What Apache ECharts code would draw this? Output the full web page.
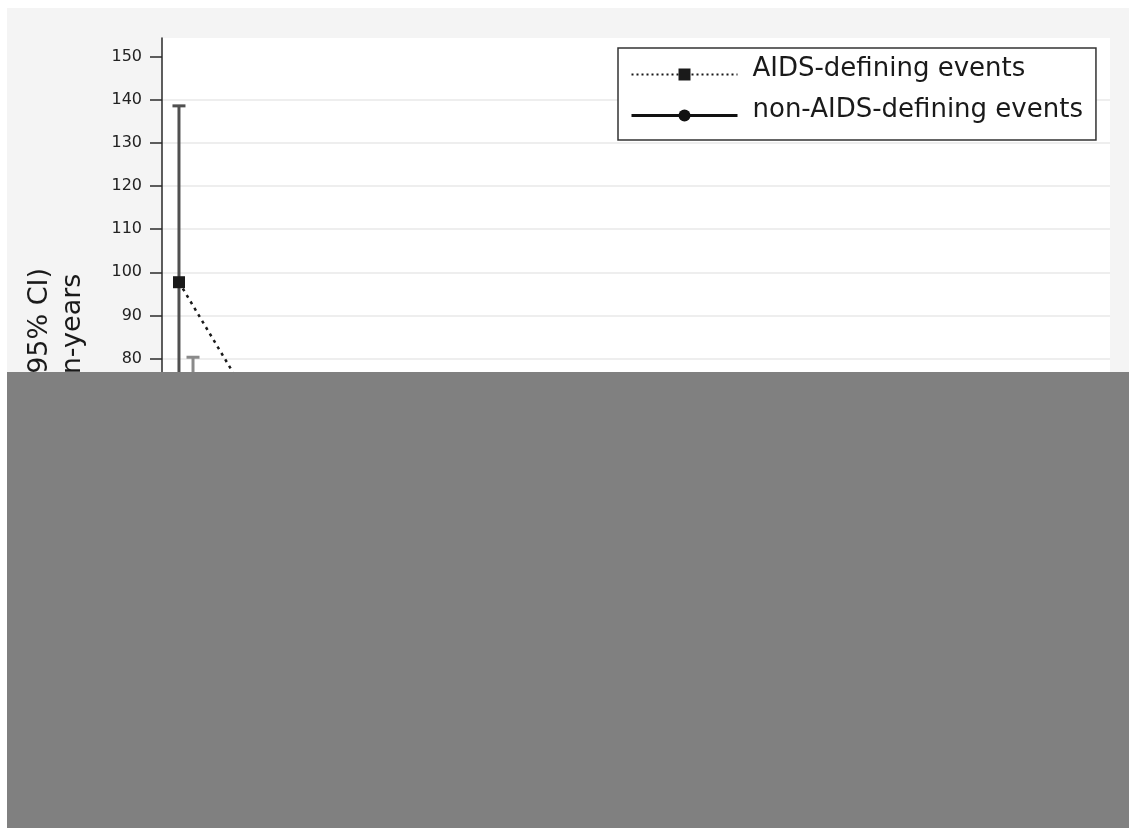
<!DOCTYPE html>
<html>
<head>
<meta charset="utf-8">
<title>Incidence of AIDS-defining and non-AIDS-defining events</title>
<script src="https://cdn.jsdelivr.net/npm/echarts@6/dist/echarts.min.js"></script>
<style>
  html, body { margin: 0; padding: 0; background: #ffffff; }
  #frame { position: absolute; left: 7px; top: 8px; width: 1122px; height: 820px; background: #f4f4f4; }
  #chart { position: absolute; left: 0; top: 0; width: 1129px; height: 828px; }
</style>
</head>
<body>
<div id="frame"></div>
<div id="chart"></div>
<script>
// CD4 strata (cells/µL) on the horizontal axis
const groups = ['<50', '50–99', '100–199', '200–349', '350–499', '≥500'];

// AIDS-defining events: rate and 95% CI per 1000 person-years
const aidsRate = [97.7, 28.0, 12.5, 6.0, 3.4, 2.1];
const aidsLow  = [69.0, 22.0, 9.5, 4.4, 2.3, 1.4];
const aidsHigh = [138.6, 35.6, 16.4, 8.2, 5.0, 3.1];

// non-AIDS-defining events: rate and 95% CI per 1000 person-years
const nonAidsRate = [47.5, 21.0, 13.5, 9.8, 7.6, 6.9];
const nonAidsLow  = [28.0, 15.5, 10.6, 7.9, 6.0, 5.7];
const nonAidsHigh = [80.3, 28.4, 17.2, 12.2, 9.6, 8.3];

// y-axis tick values
const yTicks = [0, 10, 20, 30, 40, 50, 60, 70, 80, 90, 100, 110, 120, 130, 140, 150];

const FONT = 'DejaVu Sans';
const DODGE = 0.039; // small horizontal offset so the two series don't overlap

const xPos = groups.map((g, i) => i + 1);
const aidsLine = xPos.map((x, i) => [x - DODGE, aidsRate[i]]);
const nonAidsLine = xPos.map((x, i) => [x + DODGE, nonAidsRate[i]]);
const aidsCI = xPos.map((x, i) => [x - DODGE, aidsLow[i], aidsHigh[i]]);
const nonAidsCI = xPos.map((x, i) => [x + DODGE, nonAidsLow[i], nonAidsHigh[i]]);

function ciRenderer(color) {
  return function (params, api) {
    const x = api.value(0);
    const pLo = api.coord([x, api.value(1)]);
    const pHi = api.coord([x, api.value(2)]);
    const half = 6.5;
    const style = { stroke: color, lineWidth: 3 };
    return {
      type: 'group',
      children: [
        { type: 'line', shape: { x1: pHi[0], y1: pHi[1], x2: pLo[0], y2: pLo[1] }, style: style },
        { type: 'line', shape: { x1: pHi[0] - half, y1: pHi[1], x2: pHi[0] + half, y2: pHi[1] }, style: style },
        { type: 'line', shape: { x1: pLo[0] - half, y1: pLo[1], x2: pLo[0] + half, y2: pLo[1] }, style: style }
      ]
    };
  };
}

const chart = echarts.init(document.getElementById('chart'), null, { renderer: 'canvas' });

chart.setOption({
  animation: false,
  backgroundColor: 'transparent',
  textStyle: { fontFamily: FONT },
  grid: {
    left: 162, right: 19, top: 38, bottom: 12,
    show: true, backgroundColor: '#ffffff', borderWidth: 0,
    outerBoundsMode: 'none'
  },
  legend: {
    orient: 'vertical',
    left: 618, top: 48,
    padding: [8, 13, 6, 12],
    itemGap: 4,
    itemWidth: 106,
    itemHeight: 15,
    backgroundColor: '#ffffff',
    borderColor: '#333333',
    borderWidth: 1.5,
    borderRadius: 0,
    formatter: '{t|{name}}',
    textStyle: {
      fontFamily: FONT, fontSize: 26, color: '#1a1a1a',
      rich: {
        t: {
          fontFamily: FONT, fontSize: 26, color: '#1a1a1a',
          lineHeight: 26, padding: [0, 0, 11, 10]
        }
      }
    },
    data: [
      { name: 'AIDS-defining events', lineStyle: { type: [2, 3], width: 2 } },
      { name: 'non-AIDS-defining events', lineStyle: { type: 'solid', width: 3 } }
    ]
  },
  xAxis: {
    type: 'value',
    min: 0.8667,
    max: 6.1333,
    splitLine: { show: false },
    axisLine: { lineStyle: { color: '#2a2a2a', width: 1.5 } },
    axisTick: { customValues: xPos, length: 6, lineStyle: { color: '#2a2a2a', width: 1.5 } },
    axisLabel: {
      customValues: xPos, margin: 4,
      fontFamily: FONT, fontSize: 12, color: '#222222',
      formatter: v => groups[Math.round(v) - 1] || ''
    }
  },
  yAxis: {
    type: 'value',
    min: -26.1,
    max: 154.34,
    name: 'Incidence rate (95% CI)\nper 1000 person-years',
    nameLocation: 'middle',
    nameRotate: 90,
    nameGap: 73,
    nameTextStyle: { fontFamily: FONT, fontSize: 27, color: '#1a1a1a', lineHeight: 33 },
    axisLine: { show: true, lineStyle: { color: '#2a2a2a', width: 1.5 } },
    axisTick: { show: true, customValues: yTicks, length: 12, lineStyle: { color: '#2a2a2a', width: 1.5 } },
    axisLabel: {
      customValues: yTicks, margin: 20,
      fontFamily: FONT, fontSize: 16, color: '#222222'
    },
    splitLine: {
      show: true, showMinLine: false, showMaxLine: false,
      lineStyle: { color: '#eeeeee', width: 2 }
    }
  },
  series: [
    {
      name: 'AIDS-defining events CI',
      type: 'custom',
      renderItem: ciRenderer('#505050'),
      encode: { x: 0, y: [1, 2] },
      data: aidsCI,
      z: 1
    },
    {
      name: 'non-AIDS-defining events CI',
      type: 'custom',
      renderItem: ciRenderer('#8a8a8a'),
      encode: { x: 0, y: [1, 2] },
      data: nonAidsCI,
      z: 1
    },
    {
      name: 'AIDS-defining events',
      type: 'line',
      data: aidsLine,
      symbol: 'rect',
      symbolSize: 12,
      itemStyle: { color: '#1a1a1a' },
      lineStyle: { color: '#1a1a1a', width: 2.5, type: [3, 4.5] },
      z: 3
    },
    {
      name: 'non-AIDS-defining events',
      type: 'line',
      data: nonAidsLine,
      symbol: 'circle',
      symbolSize: 14,
      itemStyle: { color: '#111111' },
      lineStyle: { color: '#111111', width: 3, type: 'solid' },
      z: 3
    }
  ],
  graphic: [
    {
      type: 'rect',
      silent: true,
      z: 1000,
      shape: { x: 7, y: 372, width: 1122, height: 456 },
      style: { fill: '#808080' }
    }
  ]
});
</script>
</body>
</html>
